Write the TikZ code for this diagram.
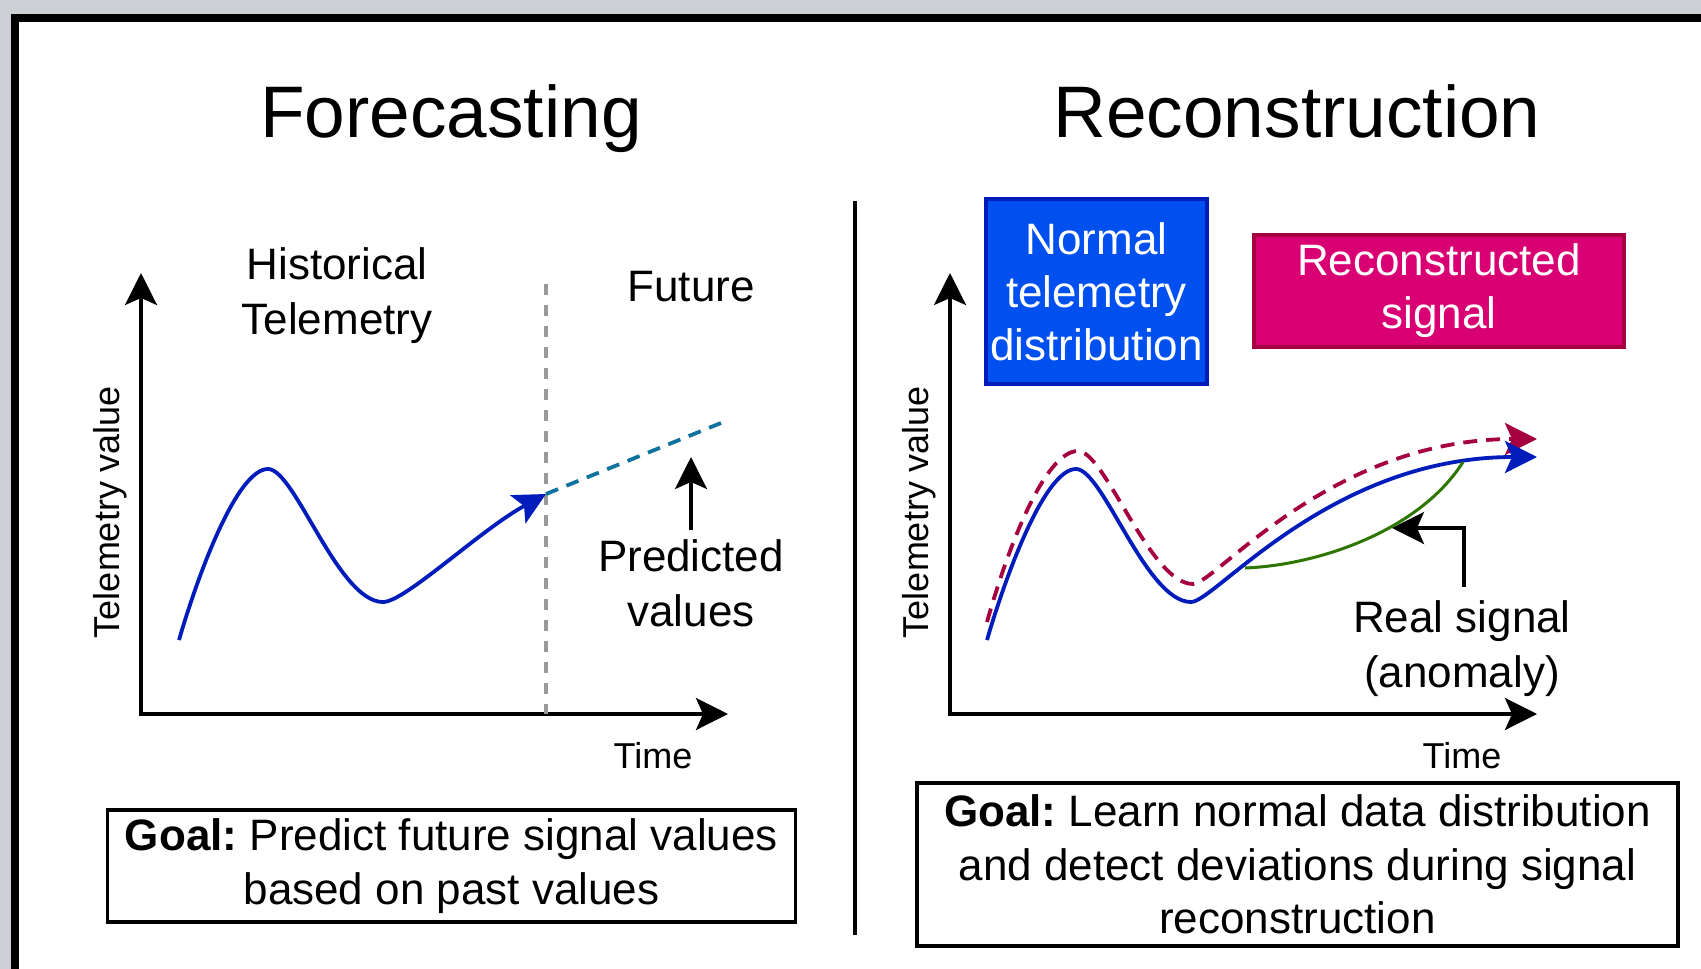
\documentclass[tikz,border=0pt]{standalone}
\usepackage{fontspec}
\setmainfont{Liberation Sans}
\usetikzlibrary{arrows.meta}
\definecolor{bgray}{RGB}{205,209,214}
\definecolor{curveblue}{HTML}{001DBC}
\definecolor{boxblue}{HTML}{0050EF}
\definecolor{boxpink}{HTML}{D80073}
\definecolor{darkpink}{HTML}{A50040}
\definecolor{predteal}{HTML}{10739E}
\definecolor{anomgreen}{HTML}{2D7600}
\definecolor{sepgray}{HTML}{999999}
\begin{document}
\begin{tikzpicture}[x=1pt,y=-1pt,
  >={Stealth[length=32pt,width=32pt,inset=7pt]},
  axis/.style={line width=3.5pt,black},
  sig/.style={line width=3.8pt,curveblue},
  sepline/.style={line width=3.5pt,sepgray,dash pattern=on 11pt off 10pt},
  preddash/.style={line width=3.8pt,predteal,dash pattern=on 13pt off 9pt},
  recdash/.style={line width=3.8pt,darkpink,dash pattern=on 14pt off 9pt},
  anom/.style={line width=3pt,anomgreen},
  lab/.style={font=\fontsize{44}{55}\selectfont,align=center,inner sep=0pt},
  titlelab/.style={font=\fontsize{73}{88}\selectfont,inner sep=0pt},
  axlab/.style={font=\fontsize{36}{43}\selectfont,inner sep=0pt},
  goalbox/.style={draw=black,line width=3.5pt,align=center,inner sep=0pt,font=\fontsize{44}{53.5}\selectfont},
  colbox/.style={line width=3.5pt,align=center,inner sep=0pt,text=white,font=\fontsize{44}{52.8}\selectfont}]
\clip (0,0) rectangle (1701,969);
\fill[bgray] (0,0) rectangle (1701,969);
\draw[line width=8pt,fill=white] (15,18) rectangle (1760,1030);

% titles
\node[titlelab,anchor=north] (ftitle) at (451,84) {Forecasting};
\node[titlelab,anchor=north] (rtitle) at (1297,84) {Reconstruction};

% ---------- left panel ----------
\coordinate (lo) at (141,714);
\coordinate (ly) at (141,273);
\coordinate (lx) at (728,714);
\draw[axis,<->] (ly) -- (lo) -- (lx);
\node[axlab,rotate=90,anchor=base] (lyl) at (119,512) {Telemetry value};
\node[axlab,anchor=north] (lxl) at (653,742) {Time};
\node[lab,anchor=north] (hist) at (337,247) {Historical\\Telemetry};
\node[lab,anchor=north] (fut) at (691,271) {Future};

\coordinate (septop) at (546,284);
\coordinate (sepbot) at (546,714);
\draw[sepline] (septop) -- (sepbot);

\coordinate (lstart) at (179,640);
\coordinate (lnow) at (546,494);
\coordinate (lpred) at (721,423);
\draw[sig,->] (lstart) .. controls (200,568) and (238,469) .. (268,469)
  .. controls (295,469) and (338,602) .. (383,602)
  .. controls (405,602) and (480,530) .. (lnow);
\draw[preddash] (lnow) -- (lpred);

\node[lab,anchor=north] (pred) at (691,539) {Predicted\\values};
\coordinate (predtip) at (691,457);
\draw[axis,->] ([yshift=9pt]pred.north) -- (predtip);

\node[goalbox,minimum width=688pt,minimum height=112pt] (lgoal) at (451.5,866)
  {\textbf{Goal:}\kern-4pt{} Predict future signal values\\based on past values};

% divider
\coordinate (dtop) at (855,201);
\coordinate (dbot) at (855,935);
\draw[line width=3.5pt] (dtop) -- (dbot);

% ---------- right panel ----------
\coordinate (ro) at (950,714);
\coordinate (ry) at (950,273);
\coordinate (rx) at (1537,714);
\draw[axis,<->] (ry) -- (ro) -- (rx);
\node[axlab,rotate=90,anchor=base] (ryl) at (928,512) {Telemetry value};
\node[axlab,anchor=north] (rxl) at (1462,742) {Time};

\node[colbox,fill=boxblue,draw=curveblue,minimum width=221pt,minimum height=185pt] (normal) at (1096.5,291.5)
  {Normal\\telemetry\\distribution};
\node[colbox,fill=boxpink,draw=darkpink,minimum width=370pt,minimum height=112pt] (recon) at (1439,291)
  {Reconstructed\\signal};

\coordinate (rstart) at (987,622);
\coordinate (rend) at (1537,439);
\draw[recdash,->] (rstart) .. controls (1008,547) and (1045,451) .. (1078,451)
  .. controls (1105,451) and (1150,584) .. (1193,584)
  .. controls (1215,584) and (1330,439) .. (rend);

\coordinate (bstart) at (987,640);
\coordinate (bnow) at (1537,457);
\draw[sig,->] (bstart) .. controls (1008,568) and (1046,469) .. (1076,469)
  .. controls (1103,469) and (1146,602) .. (1191,602)
  .. controls (1215,602) and (1330,457) .. (bnow);

\coordinate (gstart) at (1245,568);
\coordinate (gend) at (1463,462);
\draw[anom] (gstart) .. controls (1320,565) and (1420,530) .. (gend);

\node[lab,anchor=north] (real) at (1462,600) {Real signal\\(anomaly)};
\coordinate (anomtip) at (1392,528);
\draw[axis,->] ([xshift=2pt,yshift=13pt]real.north) |- (anomtip);

\node[goalbox,minimum width=761pt,minimum height=163pt] (rgoal) at (1297.5,864.5)
  {\textbf{Goal:}\kern-4pt{} Learn normal data distribution\\and detect deviations during signal\\reconstruction};
\end{tikzpicture}
\end{document}
